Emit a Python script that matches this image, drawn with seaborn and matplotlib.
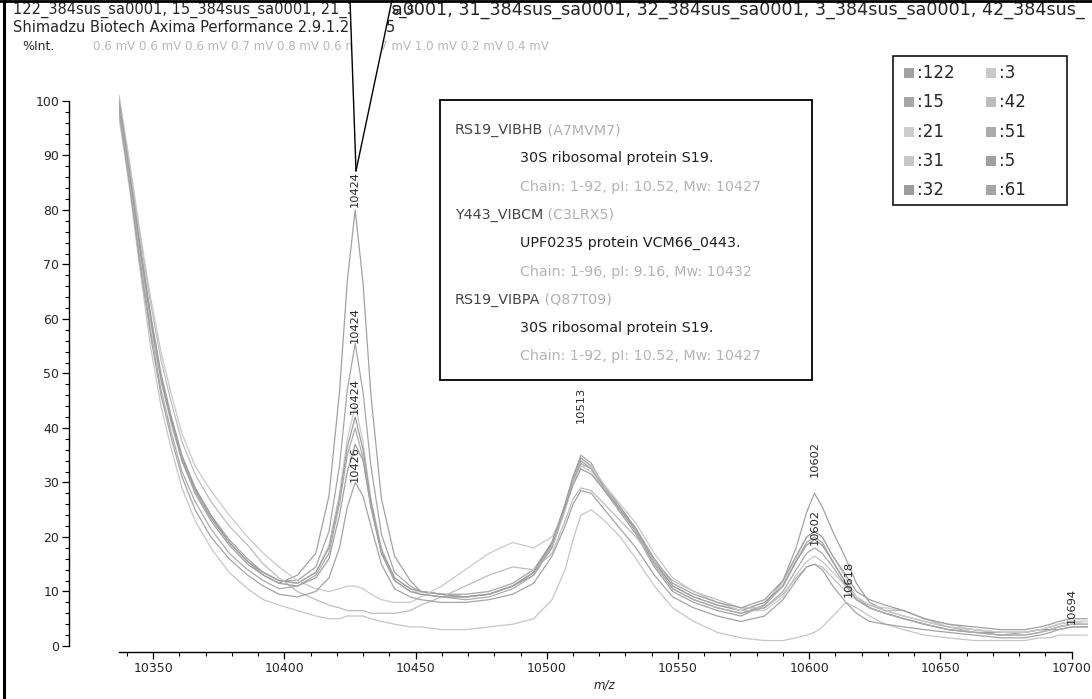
import numpy as np
import pandas as pd
import matplotlib.pyplot as plt
import seaborn as sns
from matplotlib.patches import Polygon, Rectangle
from matplotlib.lines import Line2D

# m/z grid shared by all spectra
mz = [10337, 10341, 10345, 10349, 10353, 10357, 10361, 10366,
      10372, 10379, 10386, 10392, 10398, 10405, 10412, 10417,
      10421, 10424, 10427, 10430, 10433, 10437, 10442, 10448,
      10452, 10460, 10469, 10478, 10487, 10495, 10502, 10507,
      10510, 10513, 10517, 10522, 10528, 10534, 10541, 10548,
      10556, 10565, 10574, 10583, 10590, 10595, 10599, 10602,
      10605, 10609, 10614, 10618, 10623, 10629, 10636, 10644,
      10653, 10663, 10673, 10682, 10688, 10692, 10695, 10700, 10706]

# %Int. of each spectrum, read from the overlay
s122 = [100, 87, 73, 60, 49, 41, 34, 28,
        23, 18.5, 15, 13, 11.5, 13, 17, 27.5,
        46.5, 67, 80, 66.5, 46, 27, 16.5, 12,
        10, 9.5, 9, 9.5, 11, 13, 18, 25,
        30, 34, 32.5, 28.5, 24.5, 20.5, 14.5, 10,
        8, 6.5, 5.5, 7.5, 12, 18, 24.5, 28,
        25.5, 21, 16, 11.5, 8, 6.5, 5.5, 4.5,
        3.5, 3, 2.5, 2.5, 3, 3.5, 4, 4.5, 4.5]
s15 = [101, 88, 74, 61, 50, 42, 35, 29,
       24, 19.5, 16, 13.5, 12, 12, 14.5, 21,
       33, 47, 55.5, 46.5, 33, 20.5, 13.5, 11,
       10, 9.5, 9.5, 10, 11.5, 14, 19, 26,
       31, 35, 33.5, 29, 25, 21, 15, 10.5,
       8.5, 7, 6, 7.5, 11, 15.5, 19, 20,
       19, 15.5, 11.5, 9, 7, 6, 5, 4,
       3, 2.5, 2, 2.5, 3, 3, 3.5, 4, 4]
s21 = [99, 86, 72, 59, 48.5, 40.5, 34, 28.5,
       23.5, 19, 15.5, 13.5, 12, 11.5, 13.5, 18.5,
       28, 38, 44, 37.5, 27, 18, 12.5, 10.5,
       9.5, 9, 9, 9.5, 11, 13.5, 18.5, 25,
       30, 33, 32, 28.5, 25, 21.5, 15.5, 11,
       9, 7.5, 6.5, 8, 11.5, 16, 20, 21,
       20, 16.5, 12.5, 9, 7.5, 6.5, 5.5, 4.5,
       3.5, 3, 2.5, 2.5, 3, 3.5, 4, 4.5, 4.5]
s31 = [97, 84, 69, 55, 44, 36, 29, 23,
       18, 13.5, 10.5, 8.5, 7.5, 6.5, 5.5, 5,
       5, 5.5, 5.5, 5.5, 5, 4.5, 4, 3.5,
       3.5, 3, 3, 3.5, 4, 5, 8.5, 14,
       19.5, 24, 25, 23, 20, 16, 11, 7,
       4.5, 2.5, 1.5, 1, 1, 1.5, 2, 2.5,
       3.5, 5.5, 8, 7, 5.5, 4, 3, 2,
       1.5, 1, 1, 1, 1.5, 1.5, 2, 2, 2]
s32 = [100, 87, 73, 60.5, 49.5, 41.5, 34.5, 29,
       24, 19, 15.5, 13.5, 12, 11.5, 13.5, 18,
       27, 36.5, 42, 36, 26.5, 17.5, 12.5, 10.5,
       10, 9.5, 9, 9.5, 11, 13.5, 19, 26,
       31, 34.5, 33, 29.5, 25.5, 21.5, 15.5, 11,
       9, 7.5, 6.5, 8, 11, 15.5, 18.5, 19.5,
       18.5, 15.5, 11.5, 8.5, 7, 6, 5, 4,
       3, 2.5, 2.5, 2.5, 3, 3, 3.5, 4, 4]
s3 = [101, 89, 76, 64, 54, 46, 39, 33,
      28.5, 24, 20, 17, 14.5, 12, 10.5, 10,
      10.5, 11, 11, 10.5, 9.5, 8.5, 8, 8,
      9, 11, 14, 17, 19, 18, 20, 25,
      30, 33, 33, 29.5, 26, 22.5, 17, 12.5,
      10, 8, 6.5, 6.5, 9, 13, 15.5, 16.5,
      15.5, 13.5, 11, 9, 7.5, 7, 6.5, 5,
      4, 3, 2.5, 2.5, 3, 3.5, 4, 4.5, 4]
s42 = [100, 88, 75, 63, 52.5, 44.5, 37.5, 31.5,
       26.5, 22, 18.5, 15, 12.5, 10, 8.5, 7.5,
       7, 6.5, 6.5, 6.5, 6, 6, 6, 6.5,
       7.5, 9, 11, 13, 14.5, 14, 17, 23,
       27, 29, 28.5, 26, 23, 20, 15.5, 12,
       10, 8.5, 7, 7, 9.5, 12.5, 14.5, 15,
       14.5, 12.5, 10, 8.5, 7.5, 6.5, 6.5, 5,
       3.5, 2.5, 2, 2, 2.5, 3, 3.5, 4, 4]
s51 = [98, 85, 71, 58, 47, 39, 32, 26.5,
       21.5, 17, 14, 12, 10.5, 11, 13, 17,
       26, 35, 40, 34.5, 25.5, 17, 12, 10,
       9.5, 9, 8.5, 9, 10.5, 13, 18.5, 25.5,
       30.5, 33.5, 32.5, 29, 25, 21, 15, 10.5,
       8.5, 7, 6, 7, 10, 14, 17, 18,
       17, 14.5, 11, 8.5, 7, 6, 5, 4,
       3, 2.5, 2, 2, 2.5, 3, 3, 3.5, 3.5]
s5 = [100, 87, 73, 60, 49, 41, 34, 28.5,
      23.5, 19, 15.5, 13, 11.5, 11, 12.5, 16,
      24, 32, 37, 34, 25.5, 17, 12, 10,
      9.5, 9, 9, 9.5, 11, 13.5, 19, 25.5,
      29.5, 32.5, 31.5, 28.5, 25, 21.5, 16, 11.5,
      9.5, 8, 7, 8.5, 12, 16.5, 20, 21,
      20, 16.5, 13, 10, 8.5, 7.5, 6.5, 5,
      4, 3.5, 3, 3, 3.5, 4, 4.5, 5, 5]
s61 = [99, 85, 70, 57, 46, 38, 31, 25,
       20, 16, 13, 11, 9.5, 9, 10, 12.5,
       18, 25.5, 30, 27.5, 22, 15, 10.5, 9,
       8.5, 8, 8, 8.5, 9.5, 11.5, 16.5, 22,
       26, 28.5, 28, 25, 21.5, 18, 13, 9,
       7, 5.5, 4.5, 5.5, 8.5, 12, 14.5, 15,
       14, 11, 8, 6, 4.5, 4, 3.5, 3,
       2.5, 2, 1.5, 1.5, 2, 2.5, 3, 3.5, 3.5]

samples = ['122', '15', '21', '31', '32', '3', '42', '51', '5', '61']
spectra = [s122, s15, s21, s31, s32, s3, s42, s51, s5, s61]
greys = ['#a2a2a2', '#a6a6a6', '#cdcdcd', '#c6c6c6', '#9c9c9c',
         '#c9c9c9', '#bdbdbd', '#ababab', '#a0a0a0', '#a4a4a4']
mv = ['0.6', '0.6', '0.6', '0.7', '0.8', '0.6', '0.7', '1.0', '0.2', '0.4']

# peak list labels: text, position on the m/z axis and label base height (%Int.)
peak_text = ['10424', '10424', '10424', '10426', '10513', '10602', '10602', '10618', '10694']
peak_mz = [10427, 10427, 10427, 10427, 10513, 10602, 10602, 10615, 10700]
peak_int = [80.5, 55.5, 42.5, 30, 41, 31, 18.5, 9, 4]

legend_order = ['122', '3', '15', '42', '21', '51', '31', '5', '32', '61']

annot = [
    ('RS19_VIBHB', ' (A7MVM7)', 0),
    ('30S ribosomal protein S19.', '', 1),
    ('Chain: 1-92, pI: 10.52, Mw: 10427', '', 2),
    ('Y443_VIBCM', ' (C3LRX5)', 0),
    ('UPF0235 protein VCM66_0443.', '', 1),
    ('Chain: 1-96, pI: 9.16, Mw: 10432', '', 2),
    ('RS19_VIBPA', ' (Q87T09)', 0),
    ('30S ribosomal protein S19.', '', 1),
    ('Chain: 1-92, pI: 10.52, Mw: 10427', '', 2),
]

frames = []
for name, vals in zip(samples, spectra):
    frames.append(pd.DataFrame({'mz': mz, 'intensity': vals, 'sample': name}))
df = pd.concat(frames, ignore_index=True)
palette = dict(zip(samples, greys))

sns.set_style('white')
plt.rcParams['font.family'] = ['DejaVu Sans']

W, H = 1092, 699
fig = plt.figure(figsize=(W / 100, H / 100), dpi=100)


def fx(px):
    return px / W


def fy(py):
    return 1 - py / H


ax = fig.add_axes([fx(119), fy(652), fx(1090) - fx(119), fy(60) - fy(652)])
sns.lineplot(data=df, x='mz', y='intensity', hue='sample', palette=palette,
             estimator=None, errorbar=None, linewidth=0.9, legend=False, ax=ax)
ax.set_xlim(10337, 10707)
ax.set_ylim(-1.1, 107.5)

for sp in ['top', 'right']:
    ax.spines[sp].set_visible(False)
ax.spines['left'].set_position(('outward', 36))
ax.spines['left'].set_bounds(0, 100)
ax.spines['bottom'].set_bounds(10337, 10700)
for sp in ['left', 'bottom']:
    ax.spines[sp].set_linewidth(1.0)
    ax.spines[sp].set_color('black')

ax.set_xticks(range(10350, 10701, 50))
ax.set_xticks(range(10340, 10701, 10), minor=True)
ax.set_yticks(range(0, 101, 10))
ax.set_yticks(range(0, 101, 2), minor=True)
ax.tick_params(axis='both', which='major', direction='out', length=5, width=0.9,
               labelsize=9, color='black', left=True, bottom=True, pad=2)
ax.tick_params(axis='both', which='minor', direction='out', length=3, width=0.8,
               color='black', left=True, bottom=True)
ax.set_xlabel('m/z', fontsize=8.5, style='italic', labelpad=3)
ax.set_ylabel('')

for txt, m, yv in zip(peak_text, peak_mz, peak_int):
    ax.text(m, yv, txt, rotation=90, ha='center', va='bottom', fontsize=8.2)

# header lines
fig.text(fx(13), fy(10), '122_384sus_sa0001, 15_384sus_sa0001, 21_384sus_s',
         fontsize=10.5, va='center', ha='left')
right_head = 'a0001, 31_384sus_sa0001, 32_384sus_sa0001, 3_384sus_sa0001, 42_384sus_'
t_right = fig.text(fx(392), fy(10), right_head, fontsize=10.5, va='center', ha='left')
fig.canvas.draw()
wr = t_right.get_window_extent().width
t_right.set_fontsize(10.5 * (1088 - 392) / wr)
fig.text(fx(13), fy(28), 'Shimadzu Biotech Axima Performance 2.9.1.20',
         fontsize=10.5, va='center', ha='left')
fig.text(fx(386), fy(28), '5', fontsize=10.5, va='center', ha='left')
fig.text(fx(22), fy(47), '%Int.', fontsize=9, va='center', ha='left')
fig.text(fx(93), fy(47), ' '.join(f'{v} mV' for v in mv), fontsize=8.6,
         va='center', ha='left', color='#b8b8b8')

# callout pointing to the main peak
tip = (fx(356), fy(171))
tri = Polygon([(fx(350), 1.0), (fx(392), 1.0), tip], closed=True,
              transform=fig.transFigure, facecolor='white', edgecolor='none', zorder=10)
fig.patches.append(tri)
fig.lines.append(Line2D([fx(350), tip[0]], [1.0, tip[1]], transform=fig.transFigure,
                        color='black', lw=1.0, zorder=11))
fig.lines.append(Line2D([fx(392), tip[0]], [1.0, tip[1]], transform=fig.transFigure,
                        color='black', lw=1.0, zorder=11))

# protein identification box
fig.patches.append(Rectangle((fx(440), fy(380)), fx(812) - fx(440), fy(100) - fy(380),
                             transform=fig.transFigure, facecolor='white',
                             edgecolor='black', lw=1.3, zorder=12))
row_y = 130
for main, extra, kind in annot:
    if kind == 0:
        t = fig.text(fx(455), fy(row_y), main, fontsize=10.3, va='center',
                     color='#454545', zorder=13)
        fig.canvas.draw()
        bb = t.get_window_extent()
        fig.text(bb.x1 / W, fy(row_y), extra, fontsize=10.3, va='center',
                 color='#b0b0b0', zorder=13)
    elif kind == 1:
        fig.text(fx(520), fy(row_y), main, fontsize=10.3, va='center',
                 color='#202020', zorder=13)
    else:
        fig.text(fx(520), fy(row_y), main, fontsize=10.3, va='center',
                 color='#b4b4b4', zorder=13)
    row_y += 28.3

# sample legend box
fig.patches.append(Rectangle((fx(893), fy(205)), fx(1067) - fx(893), fy(56) - fy(205),
                             transform=fig.transFigure, facecolor='white',
                             edgecolor='black', lw=1.1, zorder=12))
for i, s in enumerate(legend_order):
    col, row = i % 2, i // 2
    x0 = 904 + col * 82
    y0 = 73 + row * 29.3
    fig.patches.append(Rectangle((fx(x0), fy(y0 + 5)), fx(10), 10 / H,
                                 transform=fig.transFigure,
                                 facecolor=palette[s], edgecolor='none', zorder=13))
    fig.text(fx(x0 + 13), fy(y0), ':' + s, fontsize=12, va='center', zorder=13)

# outer frame
fig.lines.append(Line2D([fx(4), fx(4)], [0, 1], transform=fig.transFigure,
                        color='black', lw=2.2, zorder=14))
fig.lines.append(Line2D([0, 1], [fy(1), fy(1)], transform=fig.transFigure,
                        color='black', lw=2.0, zorder=14))

fig.savefig('out.png', dpi=100)
